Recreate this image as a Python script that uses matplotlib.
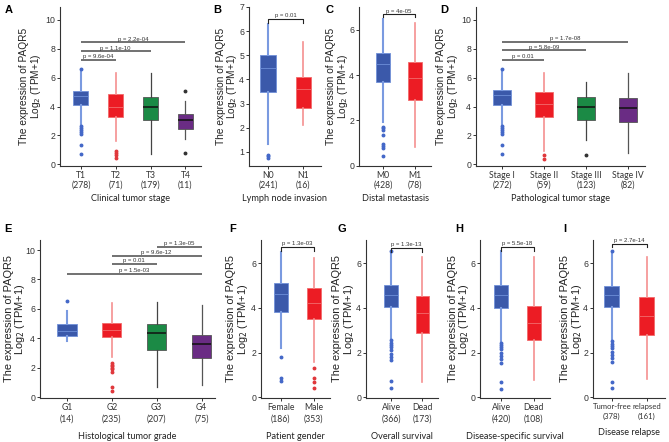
import matplotlib
matplotlib.use("Agg")
import matplotlib.pyplot as plt

W, H = 669, 442

# ---- data ----
A_cats = ["T1\n(278)", "T2\n(71)", "T3\n(179)", "T4\n(11)"]
A_q1 = [4.09, 3.26, 3.06, 2.46]
A_med = [4.71, 4.00, 3.98, 3.06]
A_q3 = [5.10, 4.87, 4.64, 3.49]
A_lo = [2.76, 1.60, 0.74, 1.72]
A_hi = [6.55, 6.32, 6.32, 4.37]
A_fl = [[6.6, 2.64, 2.5, 2.37, 2.23, 2.07, 1.33, 0.69], [0.92, 0.76, 0.62, 0.46], [], [5.1, 0.8]]
A_p = [(1, 2, "9.6e-04", 7.24), (1, 3, "1.1e-10", 7.82), (1, 4, "2.2e-04", 8.44)]

B_cats = ["N0\n(241)", "N1\n(16)"]
B_q1 = [3.50, 2.81]
B_med = [4.46, 3.60]
B_q3 = [5.01, 4.12]
B_lo = [1.35, 2.10]
B_hi = [6.30, 5.57]
B_fl = [[0.89, 0.82, 0.75], []]
B_p = ("0.01", 6.49)

C_cats = ["M0\n(428)", "M1\n(78)"]
C_q1 = [3.71, 2.92]
C_med = [4.47, 3.85]
C_q3 = [4.99, 4.57]
C_lo = [1.94, 0.84]
C_hi = [6.45, 6.29]
C_fl = [[1.72, 1.65, 1.57, 1.35, 0.98, 0.88, 0.79, 0.43], []]
C_p = ("4e-05", 6.67)

D_cats = ["Stage I\n(272)", "Stage II\n(59)", "Stage III\n(123)", "Stage IV\n(82)"]
D_q1 = [4.11, 3.29, 3.10, 2.94]
D_med = [4.80, 4.20, 3.98, 3.89]
D_q3 = [5.15, 5.01, 4.67, 4.60]
D_lo = [2.76, 0.92, 1.66, 0.80]
D_hi = [6.55, 6.32, 5.68, 6.32]
D_fl = [[6.62, 2.64, 2.5, 2.37, 2.23, 2.07, 1.33, 0.69], [0.62, 0.39], [0.67], []]
D_p = [(1, 2, "0.01", 7.24), (1, 3, "5.8e-09", 7.89), (1, 4, "1.7e-08", 8.48)]

E_cats = ["G1\n(14)", "G2\n(235)", "G3\n(207)", "G4\n(75)"]
E_q1 = [4.16, 4.07, 3.21, 2.65]
E_med = [4.50, 4.60, 4.39, 3.62]
E_q3 = [4.95, 5.07, 4.95, 4.23]
E_lo = [3.82, 2.76, 0.72, 0.84]
E_hi = [5.86, 6.43, 6.45, 6.27]
E_fl = [[6.56], [2.31, 2.2, 2.1, 2.0, 1.9, 1.74, 0.72, 0.45], [], []]
E_p = [(3, 4, "1.3e-05", 10.23), (2, 4, "9.6e-12", 9.62), (2, 3, "0.01", 9.03), (1, 4, "1.5e-03", 8.39)]

F_cats = ["Female\n(186)", "Male\n(353)"]
F_q1 = [3.84, 3.49]
F_med = [4.61, 4.20]
F_q3 = [5.10, 4.88]
F_lo = [2.19, 1.60]
F_hi = [6.52, 6.25]
F_fl = [[1.82, 0.85, 0.75], [1.33, 0.88, 0.67, 0.40]]
F_p = ("1.3e-03", 6.72)

G_cats = ["Alive\n(366)", "Dead\n(173)"]
G_q1 = [4.06, 2.90]
G_med = [4.58, 3.76]
G_q3 = [5.03, 4.54]
G_lo = [2.64, 0.70]
G_hi = [6.50, 6.27]
G_fl = [[6.55, 2.55, 2.45, 2.35, 2.25, 2.1, 1.95, 1.8, 1.65, 0.72, 0.4], []]
G_p = ("1.3e-13", 6.67)

H_cats = ["Alive\n(420)", "Dead\n(108)"]
H_q1 = [4.01, 2.58]
H_med = [4.56, 3.33]
H_q3 = [5.03, 4.10]
H_lo = [2.52, 0.78]
H_hi = [6.55, 6.28]
H_fl = [[2.45, 2.35, 2.25, 2.15, 2.0, 1.85, 1.7, 1.55, 0.7, 0.39], []]
H_p = ("5.5e-18", 6.72)

I_cats = ["Tumor-free\n(378)", "relapsed\n(161)"]
I_q1 = [4.06, 2.80]
I_med = [4.60, 3.65]
I_q3 = [5.00, 4.50]
I_lo = [2.58, 0.81]
I_hi = [6.50, 6.27]
I_fl = [[6.55, 2.5, 2.4, 2.3, 2.2, 2.05, 1.9, 1.75, 1.6, 0.7, 0.4], []]
I_p = ("2.7e-14", 6.87)

# ---- styles ----
STY = {
    "blue": dict(face="#3b59aa", edge="#7090d8", whisk="#7a9ae0", med="#6d8ed8", fl="#4468c8", wlw=1.5),
    "red": dict(face="#ec1c24", edge="#f26a6a", whisk="#f59090", med="#f36c6c", fl="#e0383c", wlw=1.2),
    "green": dict(face="#1b8a45", edge="#555555", whisk="#444444", med="#111111", fl="#333333", wlw=0.9),
    "purple": dict(face="#6a2c84", edge="#555555", whisk="#555555", med="#111111", fl="#333333", wlw=0.9),
}
COLS = ["blue", "red", "green", "purple"]

YLAB = "The expression of PAQR5\nLog$_2$ (TPM+1)"
TICKFONT = "Liberation Sans"
CATFONT = "Lato"

fig = plt.figure(figsize=(W / 100, H / 100), dpi=100)


def make_ax(left, right, top, bottom):
    ax = fig.add_axes([left / W, 1 - bottom / H, (right - left) / W, (bottom - top) / H])
    ax._px = (left, right)
    return ax


def draw_panel(ax, cats, q1, med, q3, lo, hi, fl, xlim, ylim, yticks, xlabel, lsp,
               ylab_gap, ylab_size, xlab_pad, ylab_lsp=0.95, catsize=6.2):
    stats = []
    for i in range(len(cats)):
        stats.append(dict(med=med[i], q1=q1[i], q3=q3[i], whislo=lo[i], whishi=hi[i], fliers=fl[i]))
    for i, st in enumerate(stats):
        s = STY[COLS[i]]
        ax.bxp([st], positions=[i + 1], widths=0.43, patch_artist=True, showcaps=False,
               boxprops=dict(facecolor=s["face"], edgecolor=s["edge"], linewidth=0.6),
               whiskerprops=dict(color=s["whisk"], linewidth=s["wlw"]),
               medianprops=dict(color=s["med"], linewidth=1.1 if i > 1 else 0.6),
               flierprops=dict(marker="o", markersize=1.8, markerfacecolor=s["fl"],
                               markeredgecolor=s["fl"], linestyle="none"),
               zorder=2)
    ax.set_xlim(*xlim)
    ax.set_ylim(*ylim)
    ax.set_yticks(yticks)
    ax.set_xticks(range(1, len(cats) + 1))
    ax.set_xticklabels(cats, fontsize=catsize, family=CATFONT, color="#333333", linespacing=lsp)
    for lab in ax.get_yticklabels():
        lab.set_fontsize(6.3)
        lab.set_family(TICKFONT)
        lab.set_color("#333333")
    ax.set_xlabel(xlabel, fontsize=6.6, family=CATFONT, color="#222222", labelpad=xlab_pad)
    ax.set_ylabel(YLAB, fontsize=ylab_size, family=TICKFONT, color="#222222", linespacing=ylab_lsp)
    left, right = ax._px
    ax.yaxis.set_label_coords(-ylab_gap / (right - left), 0.5)
    for side in ["top", "right"]:
        ax.spines[side].set_visible(False)
    for side in ["left", "bottom"]:
        ax.spines[side].set_color("#333333")
        ax.spines[side].set_linewidth(0.8)
    ax.tick_params(axis="both", length=2, width=0.7, color="#333333", pad=1.5)
    ax.patch.set_alpha(0)


def multi_p(ax, items):
    for a, b, txt, y in items:
        ax.plot([a, b], [y, y], color="#666666", linewidth=1.3, solid_capstyle="butt", zorder=3)
        ax.annotate("p = " + txt, xy=((a + b) / 2, y), xytext=(0, 0.6), textcoords="offset points",
                    ha="center", va="bottom", fontsize=4.3, family=TICKFONT, color="#333333")


def bracket_p(ax, item, tick):
    txt, y = item
    ax.plot([1, 1, 2, 2], [y - tick, y, y, y - tick], color="#222222", linewidth=0.8, zorder=3)
    ax.annotate("p = " + txt, xy=(1.5, y), xytext=(0, 0.6), textcoords="offset points",
                ha="center", va="bottom", fontsize=4.3, family=TICKFONT, color="#333333")


R1 = 7.3
R2 = 7.9

# row 1
axA = make_ax(60, 201, 7, 166)
draw_panel(axA, A_cats, A_q1, A_med, A_q3, A_lo, A_hi, A_fl, (0.4, 4.45), (-0.12, 10.9),
           [0, 2, 4, 6, 8, 10], "Clinical tumor stage", 1.15, 17, R1, 3)
multi_p(axA, A_p)

axB = make_ax(249, 321, 7, 166)
draw_panel(axB, B_cats, B_q1, B_med, B_q3, B_lo, B_hi, B_fl, (0.46, 2.5), (0.42, 7.0),
           [1, 2, 3, 4, 5, 6, 7], "Lymph node invasion", 1.15, 10, R1, 3)
bracket_p(axB, B_p, 0.14)

axC = make_ax(359, 431, 7, 166)
draw_panel(axC, C_cats, C_q1, C_med, C_q3, C_lo, C_hi, C_fl, (0.25, 2.5), (-0.01, 7.0),
           [0, 2, 4, 6], "Distal metastasis", 1.15, 9, R1, 3)
bracket_p(axC, C_p, 0.13)

axD = make_ax(476, 645, 7, 166)
draw_panel(axD, D_cats, D_q1, D_med, D_q3, D_lo, D_hi, D_fl, (0.38, 4.4), (-0.12, 10.9),
           [0, 2, 4, 6, 8, 10], "Pathological tumor stage", 1.15, 16, R1, 3)
multi_p(axD, D_p)

# row 2
axE = make_ax(40, 215, 240, 398)
draw_panel(axE, E_cats, E_q1, E_med, E_q3, E_lo, E_hi, E_fl, (0.4, 4.3), (-0.05, 10.68),
           [0, 2, 4, 6, 8, 10], "Histological tumor grade", 1.45, 13, R2, 6, ylab_lsp=0.85)
multi_p(axE, E_p)

axF = make_ax(261, 330, 240, 398)
draw_panel(axF, F_cats, F_q1, F_med, F_q3, F_lo, F_hi, F_fl, (0.4, 2.5), (-0.03, 7.04),
           [0, 2, 4, 6], "Patient gender", 1.45, 11, R2, 6)
bracket_p(axF, F_p, 0.15)

axG = make_ax(366, 438, 240, 398)
draw_panel(axG, G_cats, G_q1, G_med, G_q3, G_lo, G_hi, G_fl, (0.2, 2.5), (-0.03, 7.04),
           [0, 2, 4, 6], "Overall survival", 1.45, 10, R2, 6)
bracket_p(axG, G_p, 0.15)

axH = make_ax(480, 550, 240, 398)
draw_panel(axH, H_cats, H_q1, H_med, H_q3, H_lo, H_hi, H_fl, (0.35, 2.5), (-0.03, 7.04),
           [0, 2, 4, 6], "Disease-specific survival", 1.45, 9, R2, 6)
bracket_p(axH, H_p, 0.15)

axI = make_ax(593, 665, 240, 398)
draw_panel(axI, I_cats, I_q1, I_med, I_q3, I_lo, I_hi, I_fl, (0.46, 2.52), (-0.03, 7.04),
           [0, 2, 4, 6], "Disease relapse", 1.45, 9, R2, 6, catsize=5.6)
bracket_p(axI, I_p, 0.15)

# panel letters
for letter, x, y in [("A", 5, 10), ("B", 213, 10), ("C", 325, 10), ("D", 440, 10),
                     ("E", 4, 229), ("F", 229, 229), ("G", 337, 229), ("H", 455, 229), ("I", 563, 229)]:
    fig.text(x / W, 1 - y / H, letter, fontsize=8, fontweight="bold", family=TICKFONT,
             ha="left", va="center")

fig.savefig("out.png", dpi=100)
